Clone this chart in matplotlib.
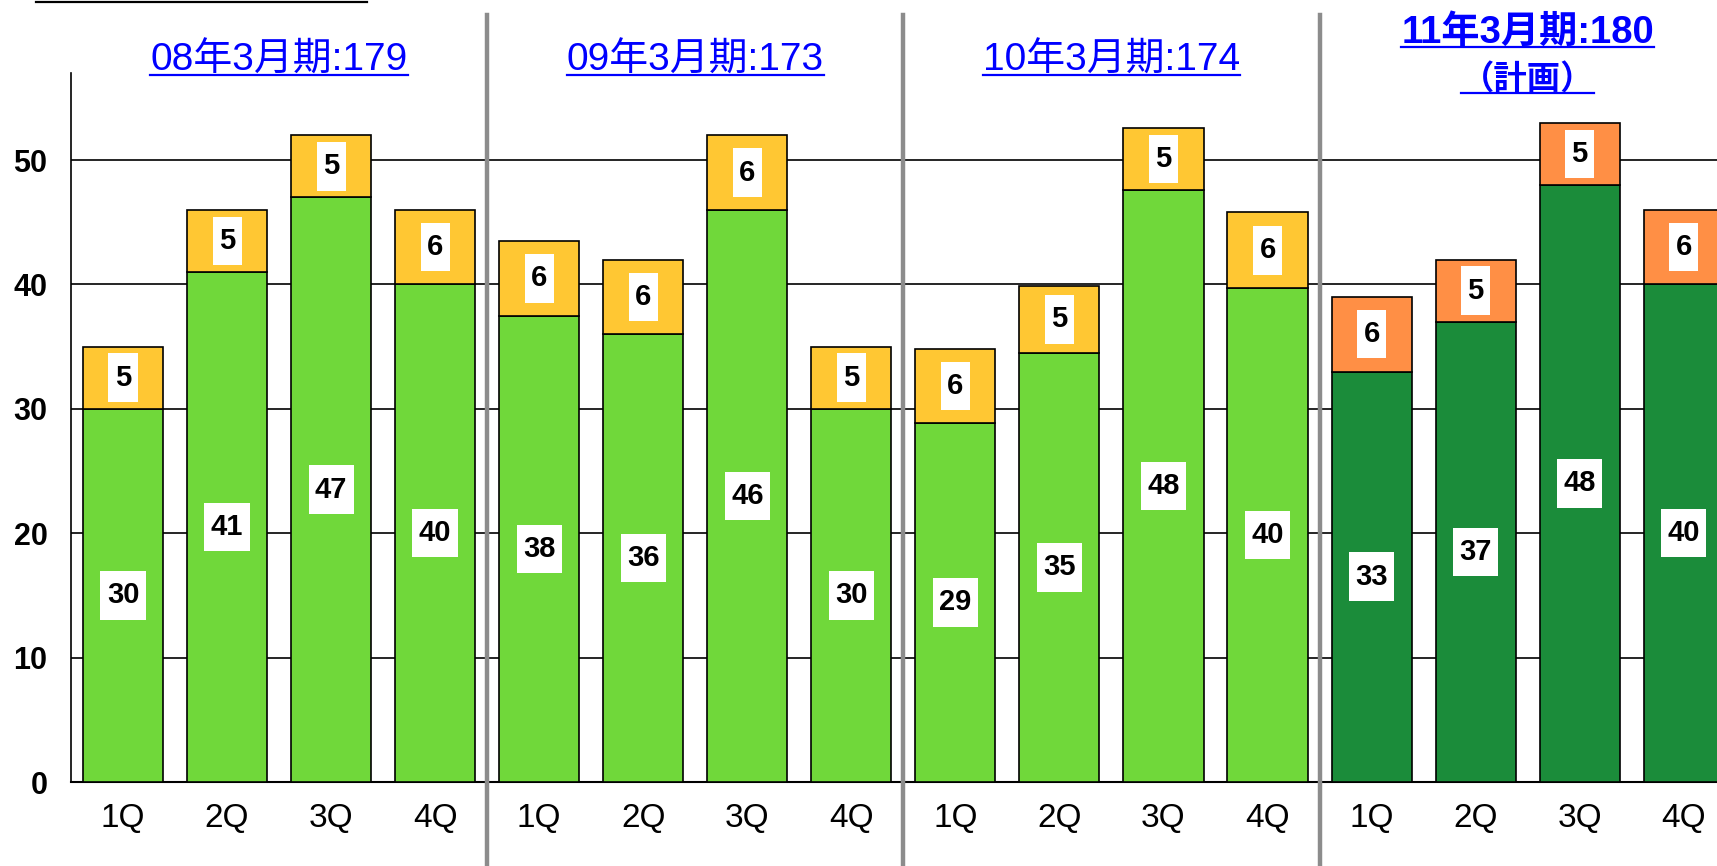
import matplotlib.pyplot as plt
from matplotlib.lines import Line2D
from matplotlib.transforms import blended_transform_factory

plt.rcParams['font.family'] = ['Liberation Sans', 'Noto Sans CJK JP', 'DejaVu Sans']

quarters = ['1Q', '2Q', '3Q', '4Q']
periods = ['08年3月期:179', '09年3月期:173', '10年3月期:174', '11年3月期:180']
plan_note = '（計画）'

# lower segment / upper segment of each quarter, per fiscal year
base_08 = [30, 41, 47, 40]
top_08 = [5, 5, 5, 6]
base_09 = [37.5, 36, 46, 30]
top_09 = [6, 6, 6, 5]
base_10 = [28.9, 34.5, 47.6, 39.7]
top_10 = [5.9, 5.4, 5.0, 6.1]
base_11 = [33, 37, 48, 40]
top_11 = [6, 5, 5, 6]

bases = [base_08, base_09, base_10, base_11]
tops = [top_08, top_09, top_10, top_11]

LIGHT_GREEN = '#70D83A'
LIGHT_ORANGE = '#FFC733'
DARK_GREEN = '#1B8C3A'
PLAN_ORANGE = '#FF8F45'


def label(ax, x, y, v):
    ax.text(x, y, str(int(v + 0.5)), ha='center', va='center', fontsize=21,
            fontweight='bold', color='black', zorder=5,
            bbox=dict(boxstyle='square,pad=0.22', fc='white', ec='none',
                      mutation_aspect=1.6))


def main():
    fig = plt.figure(figsize=(17.17, 8.66), dpi=100)
    ax = fig.add_axes([71 / 1717, 1 - 782 / 866, 1 - 71 / 1717, (782 - 73) / 866])

    xs_all = []
    for g in range(4):
        xs = [g * 4 + i for i in range(4)]
        xs_all += xs
        c1 = DARK_GREEN if g == 3 else LIGHT_GREEN
        c2 = PLAN_ORANGE if g == 3 else LIGHT_ORANGE
        ax.bar(xs, bases[g], width=0.77, color=c1, edgecolor='black', linewidth=1.2, zorder=3)
        ax.bar(xs, tops[g], bottom=bases[g], width=0.77, color=c2, edgecolor='black',
               linewidth=1.2, zorder=3)
        for x, b, t in zip(xs, bases[g], tops[g]):
            label(ax, x, b / 2, b)
            label(ax, x, b + t / 2, t)

    ax.set_xlim(-0.5, 15.32)
    ax.set_ylim(0, 57)
    ax.set_yticks(range(0, 60, 10))
    ax.set_xticks(xs_all)
    ax.set_xticklabels(quarters * 4, fontsize=24)
    for t in ax.get_yticklabels():
        t.set_fontweight('bold')
    ax.tick_params(axis='y', length=0, pad=17, labelsize=22)
    ax.tick_params(axis='x', length=0, pad=15)
    ax.yaxis.grid(True, color='black', linewidth=1.2)
    ax.set_axisbelow(True)
    for s in ['top', 'right']:
        ax.spines[s].set_visible(False)
    ax.spines['left'].set_linewidth(1.2)
    ax.spines['bottom'].set_linewidth(1.5)

    trans = blended_transform_factory(ax.transData, fig.transFigure)
    for xsep in [3.5, 7.5, 11.5]:
        fig.add_artist(Line2D([xsep, xsep], [0, 1 - 15 / 866], transform=trans,
                              color='#8C8C8C', linewidth=3.2))

    fig.add_artist(Line2D([36 / 1717, 367 / 1717], [1 - 1.5 / 866, 1 - 1.5 / 866],
                          transform=fig.transFigure, color='black', linewidth=1.6))

    headers = []
    for g in range(3):
        headers.append(fig.text(g * 4 + 1.5, 1 - 71 / 866, periods[g], transform=trans,
                                ha='center', va='baseline', fontsize=28, color='#0000FF'))
    headers.append(fig.text(13.5, 1 - 43 / 866, periods[3], transform=trans, ha='center',
                            va='baseline', fontsize=27.5, fontweight='bold', color='#0000FF'))
    headers.append(fig.text(13.5, 1 - 89 / 866, plan_note, transform=trans, ha='center',
                            va='baseline', fontsize=24, fontweight='bold', color='#0000FF'))

    fig.canvas.draw()
    renderer = fig.canvas.get_renderer()
    inv = fig.transFigure.inverted()
    for t in headers:
        bb = t.get_window_extent(renderer)
        base_y = t.get_position()[1] * fig.bbox.height - 3.5
        (x0, y0), (x1, _) = inv.transform([(bb.x0, base_y), (bb.x1, base_y)])
        fig.add_artist(Line2D([x0, x1], [y0, y0], transform=fig.transFigure,
                              color='#0000FF', linewidth=1.6))

    fig.savefig('out.png', dpi=100)


if __name__ == '__main__':
    main()
